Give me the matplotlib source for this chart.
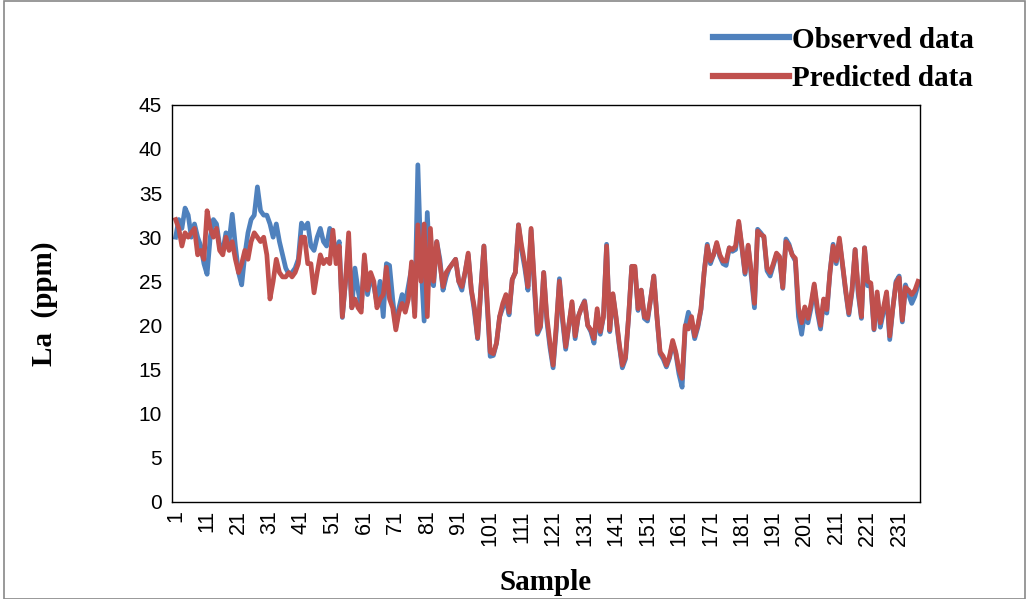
import matplotlib
matplotlib.use("Agg")
import matplotlib.pyplot as plt

predicted = [32,31,29,30.5,30,30.5,31,28,28.5,27.5,
33,31,30,31,28.5,28,30,28.5,29.5,27.5,
26,27,28.5,27.5,29.5,30.5,30,29.5,30,28,
23,25,27.5,26,25.5,25.5,26,25.5,26,27,
30,30,27,27,23.7,26,28,27,27.5,27,
30.8,27,29,21,25,30.5,22,23,22,21.5,
28,24,26,25,22,23,23.5,26.6,23,22,
19.5,21.5,22.5,21.5,23,27.2,21,31.4,25,31.5,
21,31,25,29.5,27,24.4,26,26.5,27,27.5,
25,24.4,26,28.2,24,22,18.6,24,29,23,
17,16.8,18,21,22.5,23.5,21.5,25.2,26,31.4,
29,27,24.4,31,25,19.2,20,26,21,18,
15.5,20,25,21,17.6,20,22.7,18.8,21,22,
22.7,20,19.5,18.5,21.9,19.3,21,29,19.5,23.6,
21,18,15.5,16.4,21,26.7,26.7,21.9,24,21,
20.8,23,25.6,21,17,16.5,15.5,16.5,18.3,17,
15,14,20,19.6,21,18.8,20,21.9,26,29,
27.3,28,29.4,28,27.3,27.3,28.8,28.6,29,31.8,
29,26,29.1,26,22.5,30.7,30.3,30.1,26.5,26,
27,28.2,27.8,24.3,29.5,29,28,27.6,22,20.3,
22.1,20.8,22.5,24.7,22,20,23,21.8,26,29,
27.3,29.9,27,24,21.4,24,28.6,24,21,28.8,
25,24.8,19.6,23.8,20.3,22,23.8,18.8,22,24.8,
25.4,20.6,24.3,24,23.5,24,25]

observed = [30,32,31,33.3,32.5,30,31.5,30,29,27,
25.8,30,32,31.5,29,28.5,30.5,29.5,32.6,29,
26,24.6,28,30.5,32,32.5,35.7,33,32.5,32.5,
31.5,30,31.5,29.5,28,26.5,25.8,26,26.5,27.5,
31.6,31,31.6,29,28.5,30,31,29.5,29,31,
30,28,29.5,20.9,25,29,22,26.5,24,22,
27.5,23.5,25.5,24.5,22.5,25,21,27,26.8,23,
19.8,22,23.5,22.5,24.5,26.5,21.5,38.2,27,20.5,
32.8,25,24.5,29.5,27.5,24,25.5,26.5,27,27.5,
25,24,26,28,24,21.5,18.5,24,29,22.5,
16.5,16.6,18,21,22,23,21.2,25.2,26,31.4,
28.5,26.5,24,30.8,24.5,19,19.8,26,20.5,17.5,
15.2,19.5,25.3,20.5,17.3,20,22.5,18.5,21,22,
22.8,20,19.3,18,21.5,19,21,29.2,19.3,23.5,
20.8,17.8,15.2,16.2,21,26.7,26.5,21.7,24,20.8,
20.5,23,25.6,21,16.8,16.2,15.3,16.3,18,16.8,
14.5,13,19.8,21.5,20.5,18.5,19.8,21.8,26,29.2,
27,28,29.2,27.8,27,26.8,28.8,28.4,28.6,31.6,
28.8,25.8,29,25.5,22,30.9,30.5,30,26.2,25.6,
26.8,28,27.5,24.2,29.8,29.2,28,27.3,21,19,
21.5,20.3,22,24.5,21.5,19.6,22.8,21.4,26,29.2,
27,29.6,26.8,23.8,21.2,23.8,28.6,23.5,20.8,28.8,
24.5,24.5,19.5,23.5,19.8,21.5,23.5,18.4,22,25,
25.6,20.4,24.6,23.5,22.5,23.3,24.6]

samples = list(range(1, len(predicted) + 1))
xticks = list(range(1, 232, 10))

fig = plt.figure(figsize=(10.29, 5.99), dpi=100)
ax = fig.add_axes([0.167, 0.162, 0.727, 0.663])
ax.plot(samples, observed, color="#4F81BD", lw=3.4, label="Observed data", solid_joinstyle="round")
ax.plot(samples, predicted, color="#C0504D", lw=3.4, label="Predicted data", solid_joinstyle="round")
ax.set_xlim(-0.2, len(predicted) + 0.6)
ax.set_ylim(0, 45)
ax.set_yticks(range(0, 46, 5))
ax.set_xticks(xticks)
ax.set_xticklabels([str(t) for t in xticks], rotation=90, fontsize=15.5, family="Liberation Sans")
for lab in ax.get_yticklabels():
    lab.set_fontsize(15); lab.set_family("Liberation Sans")
ax.tick_params(axis="x", length=0, pad=6)
ax.tick_params(axis="y", length=0, pad=7)
for s in ax.spines.values():
    s.set_color("black"); s.set_linewidth(1)
ax.set_ylabel("La  (ppm)", fontsize=21, fontweight="bold", family="Liberation Serif", labelpad=58)
ax.set_xlabel("Sample", fontsize=21, fontweight="bold", family="Liberation Serif", labelpad=16)
leg = fig.legend(loc="upper right", bbox_to_anchor=(0.958, 0.975), frameon=False,
                 prop={"family": "Liberation Serif", "weight": "bold", "size": 21},
                 handlelength=2.6, handletextpad=0.1, labelspacing=0.4, borderaxespad=0)
for l in leg.get_lines():
    l.set_linewidth(4.5)
fig.patches.append(plt.Rectangle((0.004, 0.0), 0.992, 0.998, transform=fig.transFigure,
                                 fill=False, edgecolor="#888888", lw=1.2))
fig.savefig("out.png", dpi=100)
